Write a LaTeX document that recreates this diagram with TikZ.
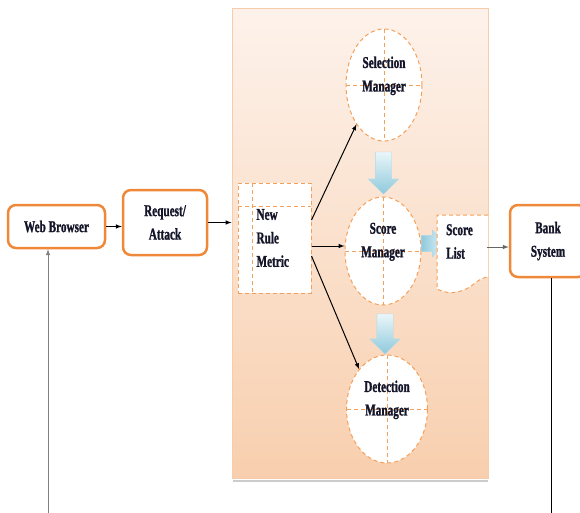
\documentclass[tikz,border=0pt]{standalone}
\usepackage{fontspec}
\setmainfont{Liberation Serif}[FakeStretch=0.68, BoldFeatures={FakeBold=1.2}]
\usepackage{xcolor}
\usepackage{tikz}
\usetikzlibrary{calc}
\usetikzlibrary{positioning}
\usetikzlibrary{arrows}
\usetikzlibrary{shapes.geometric}
\usetikzlibrary{shapes.arrows}
\definecolor{boxorange}{HTML}{F0883A}
\definecolor{dashorange}{HTML}{F5A05A}
\definecolor{paneltop}{HTML}{FDF2EB}
\definecolor{panelbottom}{HTML}{F8CFAE}
\definecolor{panelborder}{HTML}{F8CCAA}
\definecolor{blocklight}{HTML}{EAF6FA}
\definecolor{blockdark}{HTML}{8EC9DC}
\definecolor{textnavy}{HTML}{15152A}
\newcommand{\diagfont}{\fontsize{16.5}{23.5}\selectfont\bfseries}
\tikzset{
  myarrow/.style={
    draw=black,
    line width=1pt,
    -latex,
  },
  myrectangle/.style={
    draw=boxorange,
    shape=rectangle,
    line width=2.5pt,
    rounded corners=8pt,
    fill=white,
    align=center,
    inner sep=0pt,
    text=textnavy,
    font=\diagfont
  },
  mydash/.style={
    draw=dashorange,
    line width=1pt,
    dash pattern=on 4pt off 3pt,
  },
  mydashbox/.style={
    mydash,
    shape=rectangle,
    fill=white,
    align=left,
    inner sep=0pt,
    text=textnavy,
    font=\diagfont
  },
  myellipse/.style={
    mydash,
    shape=ellipse,
    fill=white,
    align=center,
    inner sep=0pt,
    text depth=22pt,
    text=textnavy,
    font=\diagfont,
    path picture={
      \draw[mydash] (path picture bounding box.north) -- (path picture bounding box.south);
      \draw[mydash] (path picture bounding box.west) -- (path picture bounding box.east);
    },
  },
  mypanel/.style={
    draw=panelborder,
    shape=rectangle,
    line width=1pt,
    top color=paneltop,
    bottom color=panelbottom,
    minimum width=256pt,
    minimum height=470pt,
  },
  myblock/.style={
    single arrow,
    single arrow head extend=7pt,
    inner sep=8pt,
    draw=blockdark!70,
    line width=0.3pt,
  },
  mytext/.style={
    align=left,
    inner sep=0pt,
    text=textnavy,
    font=\diagfont
  },
}

\begin{document}
\begin{tikzpicture}[x=1pt, y=-1pt]
  \useasboundingbox (0,0) rectangle (580,512);

  \node[mypanel] (panel) at (360,243) {};
  \draw[gray!40, line width=2pt] ($(panel.south west)+(1,2)$) -- ($(panel.south east)+(-1,2)$);

  \node[myrectangle, minimum width=97pt, minimum height=43pt] (WB) at (56.5,226.5) {Web Browser};
  \node[myrectangle, minimum width=84pt, minimum height=65pt] (RA) at (165,222.5) {Request/\\Attack};
  \node[myrectangle, minimum width=76pt, minimum height=72pt] (BS) at (548,241) {Bank\\System};

  \node[mydashbox, minimum width=73pt, minimum height=110pt, text width=36pt,
    path picture={
      \draw[mydash] ($(path picture bounding box.north west)+(14,0)$) -- ($(path picture bounding box.south west)+(14,0)$);
      \draw[mydash] ($(path picture bounding box.north west)+(0,23)$) -- ($(path picture bounding box.north east)+(0,23)$);
    }] (NRM) at (274.5,238) {New\\Rule\\Metric};

  \node[myellipse, minimum width=76pt, minimum height=112pt] (SM) at (384,85) {Selection\\Manager};
  \node[myellipse, minimum width=76pt, minimum height=108pt] (SC) at (383,251) {Score\\Manager};
  \node[myellipse, minimum width=81pt, minimum height=108pt] (DM) at (387,409) {Detection\\Manager};

  % block arrows
  \node[myblock, shape border rotate=270, minimum height=42pt, top color=blocklight, bottom color=blockdark] (A1) at ($(SM.south)!0.5!(SC.north)$) {};
  \node[myblock, shape border rotate=270, minimum height=40pt, top color=blocklight, bottom color=blockdark] (A2) at ($(SC.south)!0.5!(DM.north)$) {};
  \node[myblock, single arrow head extend=5.5pt, minimum height=16pt, left color=blockdark, right color=blocklight] (A3) at (429.5,243.5) {};

  % score list
  \fill[white] (488,215) -- (437,215) -- (437,289) .. controls (450,296) and (465,292) .. (475,283) .. controls (480,279) and (485,277) .. (488,277) -- cycle;
  \draw[mydash] (488,215) -- (437,215) -- (437,289) .. controls (450,296) and (465,292) .. (475,283) .. controls (480,279) and (485,277) .. (488,277);
  \node[mytext, anchor=west] (SL) at (446,241.5) {Score\\List};

  \draw[myarrow] (WB.east) -- (WB.east -| RA.west);
  \draw[myarrow] (RA.east) -- (RA.east -| panel.west);
  \coordinate (m0) at ($(NRM.east)+(0,8)$);
  \draw[myarrow] ($(NRM.east)+(0,-18)$) -- (SM.235);
  \draw[myarrow] (m0) -- (m0 -| SC.west);
  \draw[myarrow] ($(NRM.east)+(0,18)$) -- (DM.125);
  \coordinate (s0) at (487,247);
  \draw[myarrow, draw=gray!80!black] (s0) -- (s0 -| BS.west);

  \coordinate (wbin) at (48,515);
  \draw[myarrow, draw=gray] (wbin) -- (wbin |- WB.south);
  \coordinate (bsout) at (551,515);
  \draw[black, line width=1pt] (BS.south -| bsout) -- (bsout);
\end{tikzpicture}
\end{document}
